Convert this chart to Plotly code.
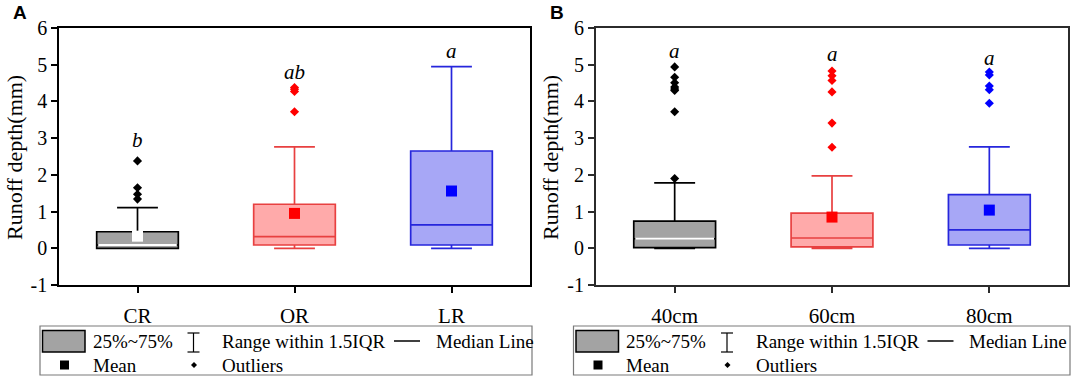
import plotly.graph_objects as go

# ---------------- data ----------------
cats_a = ["CR", "OR", "LR"]
q1_a = [0.0, 0.09, 0.09]
med_a = [0.09, 0.32, 0.64]
q3_a = [0.45, 1.2, 2.65]
lo_a = [0.0, 0.0, 0.0]
hi_a = [1.11, 2.76, 4.95]
mean_a = [0.33, 0.95, 1.56]
out_a = [[1.34, 1.47, 1.65, 2.38], [3.72, 4.27, 4.33, 4.38], []]
sig_a = ["b", "ab", "a"]
sig_y_a = [2.95, 4.8, 5.38]

cats_b = ["40cm", "60cm", "80cm"]
q1_b = [0.02, 0.04, 0.09]
med_b = [0.26, 0.28, 0.5]
q3_b = [0.74, 0.96, 1.46]
lo_b = [0.0, 0.0, 0.0]
hi_b = [1.78, 1.97, 2.76]
mean_b = [None, 0.85, 1.04]
out_b = [[1.9, 3.72, 4.3, 4.34, 4.39, 4.51, 4.66, 4.94],
         [2.75, 3.41, 4.26, 4.57, 4.7, 4.83],
         [3.95, 4.32, 4.42, 4.72, 4.8]]
sig_b = ["a", "a", "a"]
sig_y_b = [5.38, 5.3, 5.18]

y_ticks = [-1, 0, 1, 2, 3, 4, 5, 6]
y_ticktext = ["-1", "0", "1", "2", "3", "4", "5", "6"]

# ---------------- style ----------------
W, H = 1072, 378
SERIF = "Liberation Serif, Times New Roman, serif"
fills = ["#a3a3a3", "#ffaaaa", "#a7a7f6"]
lines = ["#000000", "#e84040", "#2626dc"]
mean_cols = ["#ffffff", "#ff0000", "#0000ff"]
med_cols = ["#ffffff", None, None]
out_cols = ["#000000", "#ff0000", "#0000ff"]
BOXW = 0.52


def px(x):
    return x / W


def py(y):
    return 1 - y / H


fig = go.Figure()


def add_panel(xa, ya, cats, q1, med, q3, lo, hi, mean, outs, sig, sig_y):
    xr = "x" if xa == 1 else "x%d" % xa
    yr = "y" if ya == 1 else "y%d" % ya
    for i, c in enumerate(cats):
        fig.add_trace(go.Box(
            x=[i], q1=[q1[i]], median=[med[i]], q3=[q3[i]],
            lowerfence=[lo[i]], upperfence=[hi[i]],
            width=BOXW, whiskerwidth=0.5, boxpoints=False,
            fillcolor=fills[i], line=dict(color=lines[i], width=1.7),
            showlegend=False, xaxis=xr, yaxis=yr, name=c))
        if med_cols[i]:
            fig.add_trace(go.Scatter(
                x=[i - BOXW / 2 + 0.01, i + BOXW / 2 - 0.01], y=[med[i], med[i]],
                mode="lines", line=dict(color=med_cols[i], width=2),
                showlegend=False, xaxis=xr, yaxis=yr, hoverinfo="skip"))
        if outs[i]:
            fig.add_trace(go.Scatter(
                x=[i] * len(outs[i]), y=outs[i], mode="markers",
                marker=dict(symbol="diamond", size=7, color=out_cols[i]),
                showlegend=False, xaxis=xr, yaxis=yr))
        if mean[i] is not None:
            fig.add_trace(go.Scatter(
                x=[i], y=[mean[i]], mode="markers",
                marker=dict(symbol="square", size=11, color=mean_cols[i],
                            line=dict(width=0)),
                showlegend=False, xaxis=xr, yaxis=yr))
        fig.add_annotation(x=i, y=sig_y[i], xref=xr, yref=yr, text="<i>%s</i>" % sig[i],
                           showarrow=False, xanchor="center", yanchor="middle",
                           font=dict(family=SERIF, size=21, color="black"))


add_panel(1, 1, cats_a, q1_a, med_a, q3_a, lo_a, hi_a, mean_a, out_a, sig_a, sig_y_a)
add_panel(2, 2, cats_b, q1_b, med_b, q3_b, lo_b, hi_b, mean_b, out_b, sig_b, sig_y_b)

ydom = [py(285), py(28)]


def axis_style(lw, col):
    return dict(showline=True, mirror=True, linecolor=col, linewidth=lw,
                ticks="outside", ticklen=6, tickwidth=lw, tickcolor=col,
                showgrid=False, zeroline=False, automargin=False)


xfont = dict(family=SERIF, size=21, color="black")
yfont = dict(family=SERIF, size=20, color="black")

fig.update_layout(
    width=W, height=H, margin=dict(l=0, r=0, t=0, b=0, pad=0, autoexpand=False),
    paper_bgcolor="white", plot_bgcolor="white",
    boxmode="overlay",
    xaxis=dict(domain=[px(59), px(530)], range=[-0.5, 2.5], tickvals=[0, 1, 2],
               ticktext=cats_a, ticklabelstandoff=5, anchor="y", tickfont=xfont,
               **axis_style(1.5, "black")),
    yaxis=dict(domain=ydom, range=[-1, 6], tickvals=y_ticks, ticktext=y_ticktext,
               anchor="x", tickfont=yfont, **axis_style(1.5, "black")),
    xaxis2=dict(domain=[px(596), px(1068)], range=[-0.5, 2.5], tickvals=[0, 1, 2],
                ticktext=cats_b, ticklabelstandoff=5, anchor="y2", tickfont=xfont,
                **axis_style(2, "#2b2b2b")),
    yaxis2=dict(domain=ydom, range=[-1, 6], tickvals=y_ticks, ticktext=y_ticktext,
                anchor="x2", tickfont=yfont, **axis_style(2, "#2b2b2b")),
)

# axis titles and panel letters
for xc in (15, 551):
    fig.add_annotation(x=px(xc), y=py(158), xref="paper", yref="paper",
                       text="Runoff depth(mm)", textangle=-90, showarrow=False,
                       xanchor="center", yanchor="middle",
                       font=dict(family=SERIF, size=22, color="black"))
for letter, xc in (("A", 20), ("B", 557)):
    fig.add_annotation(x=px(xc), y=py(12), xref="paper", yref="paper",
                       text="<b>%s</b>" % letter, showarrow=False,
                       xanchor="center", yanchor="middle",
                       font=dict(family="Liberation Sans, Arial, sans-serif", size=19, color="black"))

# custom legends
leg_labels = ["25%~75%", "Range within 1.5IQR", "Median Line", "Mean", "Outliers"]


def add_legend(ox, right):
    shapes = []
    shapes.append(dict(type="rect", xref="paper", yref="paper",
                       x0=px(40 + ox), x1=px(right), y0=py(375), y1=py(326),
                       line=dict(color="#7a7a7a", width=1.2), fillcolor="rgba(0,0,0,0)"))
    shapes.append(dict(type="rect", xref="paper", yref="paper",
                       x0=px(42.5 + ox), x1=px(85 + ox), y0=py(352), y1=py(330.5),
                       line=dict(color="black", width=1.5), fillcolor="#a3a3a3"))
    # whisker symbol
    wx = 193.5 + ox
    for seg in ((wx, 333, wx, 352), (wx - 6, 333, wx + 6, 333), (wx - 6, 352, wx + 6, 352)):
        shapes.append(dict(type="line", xref="paper", yref="paper",
                           x0=px(seg[0]), y0=py(seg[1]), x1=px(seg[2]), y1=py(seg[3]),
                           line=dict(color="black", width=1.2)))
    shapes.append(dict(type="line", xref="paper", yref="paper",
                       x0=px(394 + ox), x1=px(420 + ox), y0=py(341), y1=py(341),
                       line=dict(color="black", width=1.5)))
    shapes.append(dict(type="rect", xref="paper", yref="paper",
                       x0=px(60 + ox), x1=px(69 + ox), y0=py(369.5), y1=py(360.5),
                       line=dict(width=0), fillcolor="black"))
    shapes.append(dict(type="path", xref="paper", yref="paper",
                       path="M %f,%f L %f,%f L %f,%f L %f,%f Z" % (
                           px(194 + ox), py(362), px(197 + ox), py(365),
                           px(194 + ox), py(368), px(191 + ox), py(365)),
                       line=dict(width=0), fillcolor="black"))
    for s in shapes:
        fig.add_shape(**s)
    pos = [(90.5, 341), (220, 341), (433.5, 341), (90.5, 365), (220, 365)]
    for lab, (tx, ty) in zip(leg_labels, pos):
        fig.add_annotation(x=px(tx + ox), y=py(ty), xref="paper", yref="paper",
                           text=lab, showarrow=False, xanchor="left", yanchor="middle",
                           font=dict(family=SERIF, size=19, color="black"))


add_legend(0, 532)
add_legend(533.5, 1070)

fig.write_html(
    "out.html",
    config={"displayModeBar": False},
    post_script=("document.documentElement.style.margin='0';"
                 "document.documentElement.style.overflow='hidden';"
                 "document.body.style.margin='0';document.body.style.padding='0';"
                 "document.body.style.overflow='hidden';"),
)
